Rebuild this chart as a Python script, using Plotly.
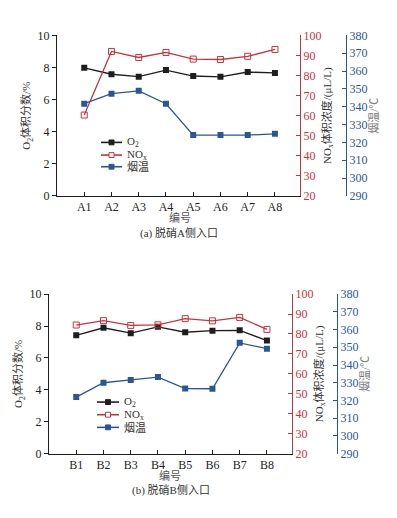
import plotly.graph_objects as go

cats_a = ["A1", "A2", "A3", "A4", "A5", "A6", "A7", "A8"]
o2_a = [7.98, 7.58, 7.43, 7.84, 7.47, 7.42, 7.72, 7.66]
nox_a = [60.3, 92.0, 89.0, 91.5, 88.2, 88.0, 89.6, 93.0]
temp_a = [341.7, 347.3, 348.9, 341.7, 324.1, 324.1, 324.1, 324.8]

cats_b = ["B1", "B2", "B3", "B4", "B5", "B6", "B7", "B8"]
o2_b = [7.42, 7.89, 7.55, 7.95, 7.61, 7.71, 7.73, 7.09]
nox_b = [84.5, 86.7, 84.3, 84.6, 87.7, 86.6, 88.3, 82.3]
temp_b = [321.9, 330.0, 331.6, 333.2, 326.7, 326.6, 352.5, 349.2]

series_names = ["O<sub>2</sub>", "NO<sub>x</sub>", "烟温"]

BLACK = "#1e1e1e"
RED = "#c9323f"
BLUE = "#2a5794"
FONT = "Liberation Serif, Noto Sans CJK SC, serif"
OFF = 8  # default page body margin
W, H = 397 - OFF, 518 - OFF

fig = go.Figure()

def add_panel(cats, o2, nox, temp, xa, ya1, ya2, ya3):
    xs = list(range(len(cats)))
    fig.add_trace(go.Scatter(x=xs, y=o2, name=series_names[0], mode="lines+markers",
                             line=dict(color=BLACK, width=1.3),
                             marker=dict(symbol="square", size=6, color=BLACK),
                             xaxis=xa, yaxis=ya1, showlegend=False))
    fig.add_trace(go.Scatter(x=xs, y=nox, name=series_names[1], mode="lines+markers",
                             line=dict(color=RED, width=1.3),
                             marker=dict(symbol="square-open", size=6, color=RED, line=dict(width=1)),
                             xaxis=xa, yaxis=ya2, showlegend=False))
    fig.add_trace(go.Scatter(x=xs, y=temp, name=series_names[2], mode="lines+markers",
                             line=dict(color=BLUE, width=1.3),
                             marker=dict(symbol="square", size=6, color=BLUE),
                             xaxis=xa, yaxis=ya3, showlegend=False))

add_panel(cats_a, o2_a, nox_a, temp_a, "x", "y", "y2", "y3")
add_panel(cats_b, o2_b, nox_b, temp_b, "x2", "y4", "y5", "y6")

def px_x(p):
    return (p - OFF) / W

def px_y(p):
    return 1 - (p - OFF) / H

tickfont = dict(family=FONT, size=12, color=BLACK)

def xaxis_cfg(domain, cats, anchor):
    return dict(domain=domain, range=[-1, 7.92], anchor=anchor,
                tickmode="array", tickvals=list(range(len(cats))), ticktext=cats,
                showline=True, linecolor=BLACK, linewidth=1, ticks="inside", ticklen=4,
                tickcolor=BLACK, showgrid=False, zeroline=False, tickfont=tickfont)

def y1_cfg(domain, anchor):
    return dict(domain=domain, range=[0, 10], dtick=2, anchor=anchor,
                showline=True, linecolor=BLACK, linewidth=1, ticks="outside", ticklen=4,
                tickcolor=BLACK, showgrid=False, zeroline=False, tickfont=tickfont,
                title=dict(text="O<sub>2</sub>体积分数/%", font=dict(family=FONT, size=11, color="#333"), standoff=4))

def y2_cfg(overlay):
    return dict(overlaying=overlay, side="right", anchor="x" if overlay == "y" else "x2",
                range=[20, 100], dtick=10,
                showline=True, linecolor=RED, linewidth=1, ticks="inside", ticklen=4,
                tickcolor=RED, showgrid=False, zeroline=False,
                tickfont=dict(family=FONT, size=12, color=RED),
                title=dict(text="NO<sub>x</sub>体积浓度/(μL/L)", font=dict(family=FONT, size=11, color="#333"), standoff=2))

def y3_cfg(overlay, pos):
    return dict(overlaying=overlay, side="right", anchor="free", position=pos,
                range=[290, 380], dtick=10,
                showline=True, linecolor=BLUE, linewidth=1, ticks="inside", ticklen=4,
                tickcolor=BLUE, showgrid=False, zeroline=False,
                tickfont=dict(family=FONT, size=12, color=BLUE),
                title=dict(text="烟温/℃", font=dict(family=FONT, size=11, color="#777"), standoff=2))

top_dom = [px_y(194), px_y(29)]
bot_dom = [px_y(459), px_y(295)]
xa_dom = [px_x(57), px_x(300)]
xb_dom = [px_x(49), px_x(292)]

annotations = [
    dict(text="编号", x=px_x(180), y=px_y(216), font=dict(family=FONT, size=11, color="#555")),
    dict(text="(a) 脱硝A侧入口", x=px_x(179), y=px_y(232), font=dict(family=FONT, size=11, color="#333")),
    dict(text="编号", x=px_x(170), y=px_y(482), font=dict(family=FONT, size=11, color="#555")),
    dict(text="(b) 脱硝B侧入口", x=px_x(171), y=px_y(496), font=dict(family=FONT, size=11, color="#333")),
]
for a in annotations:
    a.update(xref="paper", yref="paper", showarrow=False, xanchor="center", yanchor="middle")

shapes = []
styles = [(BLACK, BLACK), (RED, "white"), (BLUE, BLUE)]

def add_legend(x0, x1, xt, rows):
    xm = (x0 + x1) / 2
    for (col, fill), name, yr in zip(styles, series_names, rows):
        shapes.append(dict(type="line", xref="paper", yref="paper",
                           x0=px_x(x0), x1=px_x(x1), y0=px_y(yr), y1=px_y(yr),
                           line=dict(color=col, width=1.6)))
        shapes.append(dict(type="rect", xref="paper", yref="paper",
                           x0=px_x(xm - 2.5), x1=px_x(xm + 2.5), y0=px_y(yr - 2.5), y1=px_y(yr + 2.5),
                           line=dict(color=col, width=1), fillcolor=fill))
        annotations.append(dict(text=name, x=px_x(xt), y=px_y(yr), xref="paper", yref="paper",
                                showarrow=False, xanchor="left", yanchor="middle",
                                borderpad=0,
                                font=dict(family=FONT, size=11, color="#333")))

add_legend(101, 122, 126, [139, 152, 164])
add_legend(97, 119, 123, [406, 419, 432])

fig.update_layout(
    width=W, height=H, margin=dict(l=0, r=0, t=0, b=0),
    paper_bgcolor="white", plot_bgcolor="white",
    font=dict(family=FONT, size=11, color=BLACK),
    showlegend=False,
    xaxis=xaxis_cfg(xa_dom, cats_a, "y"),
    yaxis=y1_cfg(top_dom, "x"),
    yaxis2=y2_cfg("y"),
    yaxis3=y3_cfg("y", px_x(346)),
    xaxis2=xaxis_cfg(xb_dom, cats_b, "y4"),
    yaxis4=y1_cfg(bot_dom, "x2"),
    yaxis5=y2_cfg("y4"),
    yaxis6=y3_cfg("y4", px_x(337)),
    annotations=annotations,
    shapes=shapes,
)

fig.write_html("out.html")
